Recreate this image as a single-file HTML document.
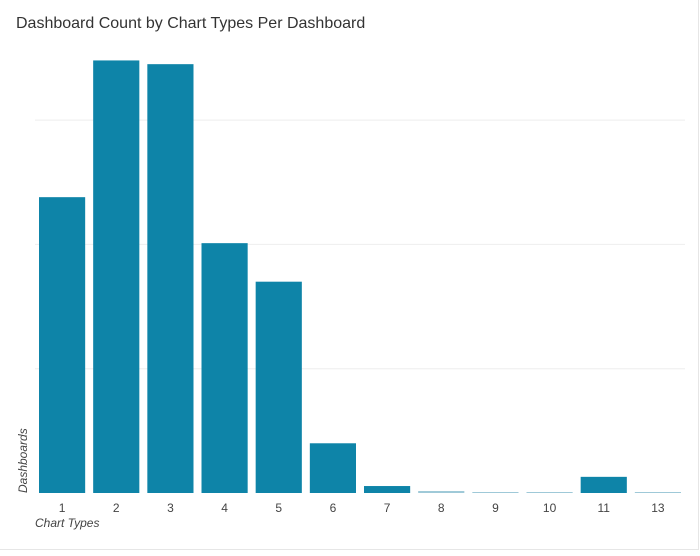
<!DOCTYPE html>
<html><head><meta charset="utf-8"><style>
body{margin:0;background:#fff;font-family:"Liberation Sans",sans-serif}
#card{position:absolute;left:0;top:0;width:698px;height:549px;border-right:1px solid #e6e6e6;border-bottom:1px solid #e6e6e6;background:#fff}
</style></head><body>
<div id="card">
<svg id="chart" width="700" height="551">
<text x="16" y="28" font-size="16" fill="#333">Dashboard Count by Chart Types Per Dashboard</text>
<g id="grid"></g>
<g id="bars"></g>
<g id="xticks"></g>
<text x="35" y="527" font-size="12" font-style="italic" fill="#444">Chart Types</text>
<text transform="translate(27,493) rotate(-90)" font-size="12" font-style="italic" fill="#444">Dashboards</text>
</svg></div>
<script>
const categories=["1","2","3","4","5","6","7","8","9","10","11","13"];
const values=[238,348,345,201,170,40,5.6,1.6,0.8,0.4,13,0.4];
const gridTicks=[100,200,300];
const NS="http://www.w3.org/2000/svg";
const x0=35,x1=685,y0=493,pxPerUnit=1.243;
const band=(x1-x0)/categories.length;
const xPos=i=>x0+i*band;
const yPos=v=>y0-v*pxPerUnit;
const grid=document.getElementById('grid');
gridTicks.forEach(t=>{
  const l=document.createElementNS(NS,'line');
  
  
  l.setAttribute('x1',x0);l.setAttribute('x2',x1);
  l.setAttribute('y1',yPos(t));l.setAttribute('y2',yPos(t));
  l.setAttribute('stroke','#eeeeee');l.setAttribute('stroke-width','1');
  grid.appendChild(l);
});
const bars=document.getElementById('bars'),xt=document.getElementById('xticks');
categories.forEach((c,i)=>{
  const v=values[i];
  const r=document.createElementNS(NS,'rect');
  
  
  r.setAttribute('x',xPos(i)+4);r.setAttribute('width',band-8);
  const h=Math.max(v*pxPerUnit,1);
  r.setAttribute('y',y0-h);r.setAttribute('height',h);
  r.setAttribute('fill',v<3?'#9fc9d8':'#0e84a8');
  bars.appendChild(r);
  const t=document.createElementNS(NS,'text');
  
  
  t.setAttribute('x',xPos(i)+band/2);t.setAttribute('y',512);
  t.setAttribute('text-anchor','middle');t.setAttribute('font-size','12');t.setAttribute('fill','#444');
  t.textContent=c;xt.appendChild(t);
});
</script>
</body></html>
